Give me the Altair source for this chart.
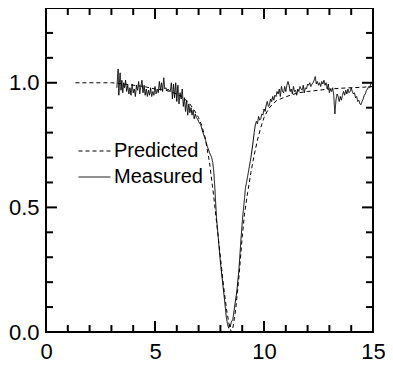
import altair as alt
import pandas as pd

# ---------------- data ----------------
pred_x = [1.35, 2.0, 3.0, 3.3, 4.0, 4.5, 5.0, 5.5, 6.0, 6.3, 6.6, 6.8, 7.0, 7.14, 7.3, 7.5,
          7.7, 7.85, 8.0, 8.15, 8.3, 8.42, 8.5, 8.58, 8.7, 8.85, 9.0, 9.1, 9.25, 9.4, 9.55,
          9.7, 9.85, 10.0, 10.2, 10.4, 10.6, 10.9, 11.2, 11.6, 12.0, 12.5, 13.0, 13.5, 14.0,
          14.5, 15.0]
pred_y = [1.0, 1.0, 1.0, 0.998, 0.99, 0.985, 0.975, 0.97, 0.955, 0.94, 0.915, 0.89, 0.86,
          0.83, 0.78, 0.68, 0.54, 0.42, 0.30, 0.18, 0.08, 0.02, 0.0, 0.02, 0.09, 0.22, 0.38,
          0.47, 0.56, 0.64, 0.71, 0.77, 0.82, 0.86, 0.895, 0.915, 0.93, 0.94, 0.95, 0.96,
          0.965, 0.97, 0.975, 0.978, 0.98, 0.982, 0.985]

meas_x = [3.25, 3.28, 3.31, 3.34, 3.37, 3.40, 3.44, 3.48, 3.52, 3.56, 3.60, 3.65, 3.70, 3.75,
          3.80, 3.85, 3.90, 3.95, 4.00, 4.05, 4.10, 4.15, 4.20, 4.25, 4.30, 4.35, 4.40, 4.45,
          4.50, 4.55, 4.60, 4.65, 4.70, 4.75, 4.80, 4.85, 4.90, 4.95, 5.00, 5.05, 5.10, 5.15,
          5.20, 5.25, 5.30, 5.35, 5.40, 5.45, 5.50, 5.55, 5.60, 5.65, 5.70, 5.75, 5.80, 5.85,
          5.90, 5.95, 6.00, 6.05, 6.10, 6.15, 6.20, 6.25, 6.30, 6.35, 6.40, 6.45, 6.50, 6.55,
          6.60, 6.65, 6.70, 6.75, 6.80, 6.85, 6.90, 6.95, 7.00, 7.10, 7.20, 7.30, 7.40, 7.50,
          7.60, 7.65, 7.70, 7.75, 7.82, 7.90, 8.00, 8.10, 8.20, 8.27, 8.33, 8.38, 8.42, 8.45,
          8.50, 8.57, 8.65, 8.75, 8.85, 8.95, 9.02, 9.10, 9.15, 9.20, 9.30, 9.40, 9.48, 9.55,
          9.60, 9.65, 9.70, 9.75, 9.80, 9.85, 9.90, 9.95, 10.00, 10.05, 10.10, 10.15, 10.20,
          10.25, 10.30, 10.35, 10.40, 10.45, 10.50, 10.55, 10.60, 10.65, 10.70, 10.75, 10.80,
          10.85, 10.90, 10.95, 11.00, 11.05, 11.10, 11.15, 11.20, 11.25, 11.30, 11.35, 11.40,
          11.45, 11.50, 11.55, 11.60, 11.65, 11.70, 11.75, 11.80, 11.85, 11.90, 11.95, 12.00,
          12.05, 12.10, 12.15, 12.20, 12.25, 12.30, 12.35, 12.40, 12.45, 12.50, 12.55, 12.60,
          12.65, 12.70, 12.75, 12.80, 12.85, 12.90, 12.95, 13.00, 13.05, 13.10, 13.15, 13.20,
          13.25, 13.30, 13.35, 13.40, 13.45, 13.50, 13.55, 13.60, 13.65, 13.70, 13.75, 13.80,
          13.85, 13.90, 13.95, 14.00, 14.05, 14.10, 14.15, 14.20, 14.25, 14.30, 14.35, 14.40,
          14.45, 14.50, 14.55, 14.60, 14.65, 14.70, 14.75, 14.80, 14.85, 14.90, 14.95, 15.00]
meas_y = [0.98, 1.02, 1.055, 0.95, 1.00, 1.04, 0.97, 1.01, 0.96, 1.00, 0.98, 1.01, 0.965, 0.99,
          0.955, 0.98, 0.95, 0.995, 0.96, 0.975, 0.945, 0.99, 0.97, 1.005, 0.955, 0.985, 1.01,
          0.96, 0.99, 0.95, 0.975, 0.945, 0.97, 0.95, 0.98, 0.945, 0.965, 0.95, 0.985, 0.955,
          0.975, 0.96, 1.005, 0.97, 1.00, 0.965, 1.02, 0.975, 0.98, 0.97, 0.975, 0.97, 0.965,
          1.00, 0.935, 0.995, 0.94, 1.00, 0.925, 0.99, 0.915, 0.96, 0.935, 0.975, 0.905, 0.94,
          0.885, 0.93, 0.87, 0.915, 0.88, 0.90, 0.87, 0.89, 0.855, 0.875, 0.86, 0.855, 0.845,
          0.83, 0.80, 0.775, 0.745, 0.72, 0.70, 0.68, 0.64, 0.57, 0.46, 0.38, 0.28, 0.20, 0.12,
          0.06, 0.03, 0.015, 0.03, 0.02, 0.04, 0.05, 0.10, 0.16, 0.25, 0.38, 0.46, 0.53, 0.58,
          0.60, 0.65, 0.70, 0.75, 0.80, 0.83, 0.845, 0.835, 0.865, 0.85, 0.855, 0.875, 0.87,
          0.895, 0.885, 0.91, 0.925, 0.905, 0.91, 0.935, 0.925, 0.945, 0.93, 0.95, 0.945, 0.965,
          0.955, 0.975, 0.945, 0.985, 0.965, 0.96, 0.985, 0.965, 0.99, 1.005, 0.99, 0.965, 0.975,
          0.955, 0.985, 0.965, 0.97, 0.95, 0.975, 0.965, 0.985, 0.975, 0.97, 0.99, 0.96, 0.98,
          0.975, 0.995, 0.99, 1.00, 0.985, 0.995, 1.00, 1.01, 1.025, 0.995, 1.005, 0.99, 1.00,
          0.985, 1.005, 0.995, 1.01, 0.99, 1.00, 0.975, 0.995, 0.96, 0.975, 0.965, 0.98, 0.95,
          0.875, 0.93, 0.955, 0.945, 0.925, 0.945, 0.93, 0.95, 0.965, 0.95, 0.97, 0.955, 0.975,
          0.96, 0.965, 0.98, 0.965, 0.955, 0.96, 0.94, 0.945, 0.925, 0.93, 0.915, 0.912, 0.925,
          0.935, 0.95, 0.955, 0.97, 0.975, 0.985, 0.98, 0.995, 1.0, 0.99]

series_names = ["Predicted", "Measured"]
x_labels = [0, 5, 10, 15]
y_labels = [0.0, 0.5, 1.0]
x_minor = [1, 2, 3, 4, 6, 7, 8, 9, 11, 12, 13, 14]
x_major = [5, 10]
y_minor = [0.1, 0.2, 0.3, 0.4, 0.6, 0.7, 0.8, 0.9, 1.1, 1.2]
y_major = [0.5, 1.0]

# ---------------- layout ----------------
W, H = 327, 324
FONT = "Liberation Sans"
MAJ, MIN = 11, 7

df = pd.concat([
    pd.DataFrame({"x": pred_x, "y": pred_y, "series": series_names[0]}),
    pd.DataFrame({"x": meas_x, "y": meas_y, "series": series_names[1]}),
])

xscale = alt.Scale(domain=[0, 15], nice=False, zero=False)
yscale = alt.Scale(domain=[0, 1.3], nice=False, zero=False)

xaxis = alt.Axis(values=x_labels, title=None, domain=False, ticks=False, grid=False,
                 labelFontSize=22, labelFont=FONT, labelColor="black",
                 labelPadding=9, labelFlush=False)
yaxis = alt.Axis(values=y_labels, format=".1f", title=None, domain=False, ticks=False,
                 grid=False, labelFontSize=22, labelFont=FONT, labelColor="black",
                 labelPadding=7, labelFlush=False)

lines = alt.Chart(df).mark_line(color="black", strokeWidth=1).encode(
    x=alt.X("x:Q", scale=xscale, axis=xaxis),
    y=alt.Y("y:Q", scale=yscale, axis=yaxis),
    strokeDash=alt.StrokeDash(
        "series:N",
        scale=alt.Scale(domain=series_names, range=[[4, 3], [1, 0]]),
        legend=alt.Legend(title=None, orient="none", legendX=32, legendY=130,
                          symbolType="stroke", symbolSize=1024, symbolStrokeColor="black",
                          symbolStrokeWidth=1, labelFontSize=20, labelFont=FONT,
                          labelColor="black", labelOffset=3, clipHeight=26, rowPadding=0,
                          padding=0),
    ),
    order=alt.Order("x:Q"),
)


def xticks(vals, length):
    d = pd.DataFrame({"x": vals})
    bottom = alt.Chart(d).mark_rule(color="black", strokeWidth=2).encode(
        x=alt.X("x:Q", scale=xscale, axis=xaxis), y=alt.value(H), y2=alt.value(H - length))
    top = alt.Chart(d).mark_rule(color="black", strokeWidth=2).encode(
        x=alt.X("x:Q", scale=xscale, axis=xaxis), y=alt.value(0), y2=alt.value(length))
    return [bottom, top]


def yticks(vals, length):
    d = pd.DataFrame({"y": vals})
    left = alt.Chart(d).mark_rule(color="black", strokeWidth=2).encode(
        y=alt.Y("y:Q", scale=yscale, axis=yaxis), x=alt.value(0), x2=alt.value(length))
    right = alt.Chart(d).mark_rule(color="black", strokeWidth=2).encode(
        y=alt.Y("y:Q", scale=yscale, axis=yaxis), x=alt.value(W), x2=alt.value(W - length))
    return [left, right]


layers = [lines] + xticks(x_minor, MIN) + xticks(x_major, MAJ) + yticks(y_minor, MIN) + yticks(y_major, MAJ)

chart = alt.layer(*layers).properties(
    width=W, height=H,
    autosize=alt.AutoSizeParams(type="none"),
    padding={"left": 38, "top": 0, "right": 12, "bottom": 30},
    background="white",
).configure_view(
    stroke="black", strokeWidth=2
)

chart.save("out.html", embed_options={"renderer": "svg", "actions": False})
